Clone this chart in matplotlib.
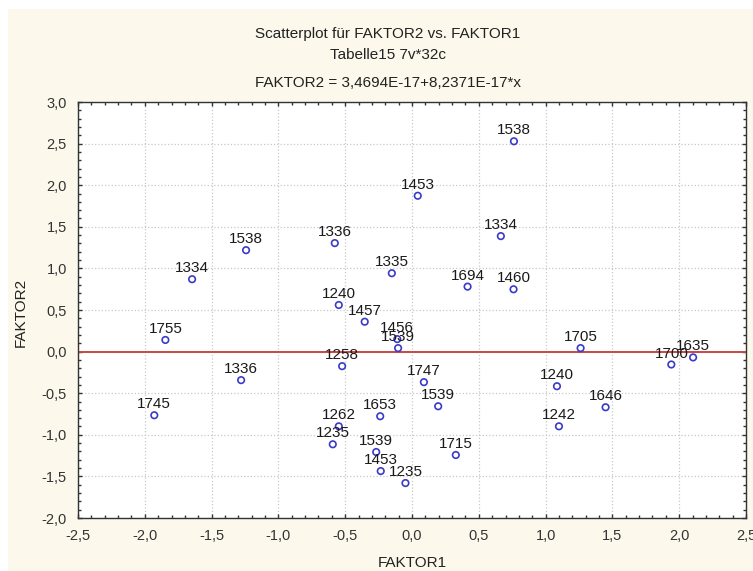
import matplotlib.pyplot as plt
from matplotlib.patches import Rectangle
from matplotlib.ticker import MultipleLocator

plt.rcParams['font.family'] = ['Liberation Sans', 'DejaVu Sans']

# case labels and factor scores
labels = ['1334', '1538', '1336', '1335', '1240', '1457', '1755', '1538',
          '1453', '1334', '1694', '1460', '1539', '1456', '1258', '1336',
          '1745', '1653', '1262', '1235', '1539', '1453', '1235', '1747',
          '1539', '1715', '1705', '1240', '1646', '1242', '1700', '1635']
faktor1 = [-1.646, -1.242, -0.578, -0.151, -0.548, -0.354, -1.846, 0.763,
           0.043, 0.665, 0.416, 0.760, -0.104, -0.110, -0.523, -1.279,
           -1.929, -0.238, -0.548, -0.593, -0.268, -0.234, -0.049, 0.089,
           0.196, 0.328, 1.262, 1.085, 1.449, 1.100, 1.941, 2.104]
faktor2 = [0.870, 1.219, 1.304, 0.942, 0.560, 0.359, 0.140, 2.528,
           1.873, 1.388, 0.781, 0.749, 0.042, 0.150, -0.175, -0.343,
           -0.765, -0.777, -0.898, -1.114, -1.207, -1.436, -1.580, -0.367,
           -0.657, -1.243, 0.042, -0.416, -0.669, -0.898, -0.155, -0.070]

# regression line FAKTOR2 = a + b*x
intercept = 3.4694e-17
slope = 8.2371e-17

xticks = [-2.5, -2.0, -1.5, -1.0, -0.5, 0.0, 0.5, 1.0, 1.5, 2.0, 2.5]
xticklabels = ['-2,5', '-2,0', '-1,5', '-1,0', '-0,5', '0,0', '0,5', '1,0', '1,5', '2,0', '2,5']
yticks = [-2.0, -1.5, -1.0, -0.5, 0.0, 0.5, 1.0, 1.5, 2.0, 2.5, 3.0]
yticklabels = ['-2,0', '-1,5', '-1,0', '-0,5', '0,0', '0,5', '1,0', '1,5', '2,0', '2,5', '3,0']

fig = plt.figure(figsize=(7.53, 5.71), dpi=100)
fig.patch.set_facecolor('white')
fig.patches.append(Rectangle((8 / 753, 0), 1, 1 - 9 / 571, transform=fig.transFigure,
                             facecolor='#fcf8ec', edgecolor='none', zorder=-10))

ax = fig.add_axes([78 / 753, 1 - 518 / 571, (746 - 78) / 753, (518 - 102) / 571])
ax.set_facecolor('white')

ax.plot([-2.5, 2.5], [intercept + slope * -2.5, intercept + slope * 2.5],
        color='#c84848', lw=1.4, zorder=2)
ax.scatter(faktor1, faktor2, s=22, facecolors='none', edgecolors='#3a3ac8',
           linewidths=1.2, zorder=3)
for lab, x, y in zip(labels, faktor1, faktor2):
    ax.annotate(lab, (x, y), xytext=(0, 5), textcoords='offset points',
                ha='center', va='baseline', fontsize=11, color='#1a1a1a', zorder=4)

ax.set_xlim(-2.5, 2.5)
ax.set_ylim(-2.0, 3.0)
ax.set_xticks(xticks)
ax.set_xticklabels(xticklabels)
ax.set_yticks(yticks)
ax.set_yticklabels(yticklabels)
ax.xaxis.set_minor_locator(MultipleLocator(0.1))
ax.yaxis.set_minor_locator(MultipleLocator(0.1))
ax.tick_params(which='both', direction='in', top=True, right=True,
               labelsize=10.5, colors='#333333', labelcolor='#333333')
ax.tick_params(which='major', length=3, width=1, pad=8)
ax.tick_params(which='minor', length=2, width=1)
ax.grid(True, which='major', linestyle=':', color='#c8c8c8', lw=0.9)
ax.set_axisbelow(True)
for sp in ax.spines.values():
    sp.set_color('#333333')
    sp.set_linewidth(1.0)

fig.text(80 / 753 + 0.0, 0, '')
fig.text(388 / 753, 1 - 38 / 571, 'Scatterplot für FAKTOR2 vs. FAKTOR1',
         ha='center', va='baseline', fontsize=11, color='#222222')
fig.text(388 / 753, 1 - 59 / 571, 'Tabelle15 7v*32c',
         ha='center', va='baseline', fontsize=11, color='#222222')
fig.text(388 / 753, 1 - 87 / 571, 'FAKTOR2 = 3,4694E-17+8,2371E-17*x',
         ha='center', va='baseline', fontsize=11, color='#222222')
fig.text(412 / 753, 1 - 567 / 571, 'FAKTOR1', ha='center', va='baseline',
         fontsize=11, color='#222222')
fig.text(21 / 753, 1 - 312 / 571, 'FAKTOR2', ha='center', va='center',
         rotation=90, fontsize=11, color='#222222')

fig.savefig('out.png', dpi=100, facecolor=fig.get_facecolor())
